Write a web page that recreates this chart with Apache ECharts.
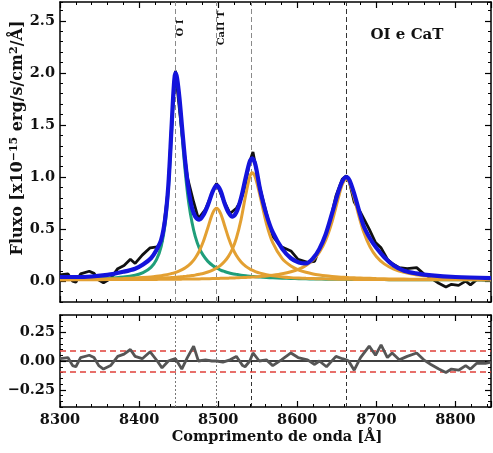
<!DOCTYPE html>
<html><head><meta charset="utf-8">
<script src="https://cdn.jsdelivr.net/npm/echarts@6/dist/echarts.min.js"></script>
<style>html,body{margin:0;padding:0;background:#fff}#c{width:493px;height:453px}</style>
</head><body><div id="c"></div>
<script>
// ---------- data ----------
const waveModel = [8300,8320,8340,8360,8380,8395,8405,8415,8422,8428,
  8433,8437,8441,8444,8446,8448,8451,8455,8459,8463,
  8467,8471,8476,8481,8487,8493,8498,8503,8508,8513,
  8518,8523,8529,8535,8540,8543,8547,8553,8561,8569,
  8581,8592,8602,8611,8620,8628,8636,8644,8652,8657,
  8662,8666,8672,8678,8684,8692,8700,8710,8722,8735,
  8750,8770,8800,8845];
const modelTotal = [0.04,0.04,0.045,0.06,0.09,0.12,0.16,0.22,0.30,0.40,
  0.60,0.92,1.47,1.88,2.00,1.95,1.76,1.42,1.10,0.86,
  0.70,0.62,0.59,0.63,0.73,0.86,0.92,0.87,0.75,0.66,
  0.62,0.66,0.80,1.00,1.15,1.18,1.12,0.88,0.64,0.47,
  0.31,0.22,0.18,0.17,0.22,0.31,0.45,0.65,0.86,0.96,
  1.00,0.97,0.84,0.68,0.53,0.41,0.32,0.23,0.15,0.10,
  0.075,0.055,0.04,0.03];
const compOI = [0.016,0.018,0.021,0.027,0.039,0.057,0.082,0.133,0.207,0.335,
  0.55,0.88,1.43,1.86,1.98,1.93,1.73,1.34,1.0,0.74,
  0.56,0.43,0.32,0.25,0.19,0.15,0.126,0.107,0.093,0.081,
  0.072,0.065,0.057,0.051,0.047,0.045,0.042,0.039,0.035,0.032,
  0.028,0.026,0.024,0.022,0.021,0.020,0.019,0.019,0.018,0.018,
  0.017,0.017,0.016,0.016,0.016,0.015,0.015,0.015,0.014,0.014,
  0.014,0.013,0.013,0.012];
const compCa8498 = [0.016,0.017,0.019,0.022,0.026,0.030,0.035,0.041,0.047,0.053,
  0.059,0.065,0.073,0.079,0.084,0.089,0.098,0.113,0.131,0.154,
  0.184,0.222,0.287,0.375,0.513,0.651,0.70,0.651,0.537,0.417,
  0.319,0.246,0.184,0.142,0.117,0.105,0.092,0.077,0.062,0.052,
  0.041,0.034,0.030,0.027,0.025,0.023,0.022,0.020,0.019,0.019,
  0.018,0.018,0.017,0.017,0.016,0.016,0.015,0.015,0.014,0.014,
  0.014,0.013,0.013,0.013];
const compCa8542 = [0.014,0.015,0.016,0.018,0.020,0.022,0.024,0.026,0.028,0.030,
  0.031,0.033,0.035,0.036,0.037,0.038,0.040,0.043,0.046,0.050,
  0.054,0.058,0.066,0.074,0.088,0.106,0.126,0.152,0.188,0.238,
  0.309,0.412,0.593,0.834,1.005,1.04,0.996,0.817,0.553,0.369,
  0.216,0.145,0.107,0.085,0.069,0.059,0.051,0.045,0.040,0.038,
  0.036,0.034,0.032,0.030,0.028,0.027,0.025,0.023,0.021,0.020,
  0.019,0.017,0.016,0.014];
const compCa8662 = [0.013,0.014,0.014,0.015,0.015,0.016,0.016,0.017,0.017,0.018,
  0.018,0.018,0.019,0.019,0.019,0.019,0.019,0.020,0.020,0.021,
  0.021,0.022,0.022,0.023,0.024,0.025,0.025,0.027,0.028,0.029,
  0.030,0.032,0.034,0.036,0.038,0.039,0.041,0.045,0.050,0.057,
  0.071,0.090,0.116,0.151,0.204,0.278,0.393,0.569,0.80,0.928,
  0.98,0.946,0.80,0.624,0.472,0.329,0.237,0.166,0.116,0.084,
  0.062,0.045,0.032,0.023];

const waveObs = [8300,8310,8316,8320,8326,8337,8343,8349,8355,8364,
  8373,8381,8389,8395,8404,8414,8423,8429,8437,8441,
  8446,8454,8461,8469,8475,8484,8492,8498,8506,8515,
  8523,8527,8531,8534,8540,8544,8552,8561,8569,8580,
  8592,8601,8613,8622,8628,8637,8649,8657,8662,8665,
  8672,8680,8691,8699,8706,8714,8720,8729,8739,8751,
  8760,8769,8779,8788,8795,8804,8813,8819,8827,8838,8845];
const fluxObs = [0.06,0.07,0.00,-0.01,0.07,0.095,0.075,0.01,-0.015,0.025,
  0.12,0.15,0.21,0.17,0.25,0.32,0.33,0.38,0.90,1.48,
  2.02,1.43,1.00,0.76,0.60,0.69,0.84,0.94,0.79,0.65,
  0.70,0.75,0.83,0.92,1.15,1.24,0.92,0.65,0.43,0.33,
  0.29,0.21,0.18,0.19,0.31,0.43,0.82,0.98,1.01,0.98,
  0.76,0.66,0.50,0.37,0.32,0.21,0.17,0.13,0.12,0.13,
  0.07,0.03,-0.02,-0.055,-0.03,-0.04,0.00,-0.035,0.015,0.01,0.02];
const residual = [0.02,0.03,-0.04,-0.05,0.03,0.05,0.03,-0.04,-0.07,-0.04,
  0.04,0.06,0.10,0.04,0.02,0.08,0.00,-0.06,0.00,0.01,
  0.02,-0.07,0.03,0.13,0.00,0.01,0.00,0.00,-0.01,0.01,
  0.04,0.00,-0.04,-0.05,0.00,0.07,0.00,0.01,-0.04,0.01,
  0.07,0.03,0.01,-0.03,0.00,-0.05,0.04,0.02,0.01,0.00,
  -0.08,0.03,0.13,0.05,0.14,0.03,0.07,0.01,0.04,0.07,
  0.01,-0.03,-0.07,-0.10,-0.07,-0.08,-0.04,-0.07,-0.02,-0.02,-0.01];

const lineWaves = [8446, 8498, 8542, 8662];
const labelWaves = [8446, 8498];
const labelTexts = ['O I', 'CaII T'];
const residLimits = [0.085, -0.085];
const fluxTicks = [0, 0.5, 1.0, 1.5, 2.0, 2.5];
const residTicks = [-0.25, 0, 0.25];
const xRange = [8300, 8845];
const fluxRange = [-0.2, 2.68];
const residRange = [-0.4, 0.4];

// ---------- chart ----------
const FONT = 'DejaVu Serif';
const chart = echarts.init(document.getElementById('c'), null, {renderer: 'canvas'});
const pair = (xs, ys) => xs.map((x, i) => [x, ys[i]]);

function xAx(grid, pos, showLabel) {
  return {type: 'value', gridIndex: grid, position: pos, min: xRange[0], max: xRange[1], interval: 100,
    axisLine: {show: true, onZero: false, lineStyle: {color: '#000', width: 1.5}},
    axisTick: {show: true, inside: true, length: 6, lineStyle: {color: '#000', width: 1.2}},
    minorTick: {show: true, splitNumber: 5, length: 3, lineStyle: {color: '#000', width: 1}},
    axisLabel: {show: showLabel, color: '#111', fontFamily: FONT, fontWeight: 'bold', fontSize: 14.5,
      margin: 6, showMaxLabel: false, formatter: v => String(v)},
    splitLine: {show: false}};
}
function yMajor(grid, pos, range, ticks, showLabel, fmt) {
  return {type: 'value', gridIndex: grid, position: pos, min: range[0], max: range[1],
    axisLine: {show: true, onZero: false, lineStyle: {color: '#000', width: 1.5}},
    axisTick: {show: true, inside: true, length: 6, customValues: ticks, lineStyle: {color: '#000', width: 1.2}},
    axisLabel: {show: showLabel, customValues: ticks, formatter: fmt, color: '#111', fontFamily: FONT,
      fontWeight: 'bold', fontSize: 14.5, margin: 5},
    splitLine: {show: false}};
}
function yMinor(grid, pos, range, step) {
  return {type: 'value', gridIndex: grid, position: pos, min: range[0], max: range[1], interval: step,
    axisLine: {show: false},
    axisTick: {show: true, inside: true, length: 3, lineStyle: {color: '#000', width: 1}},
    axisLabel: {show: false}, splitLine: {show: false}};
}

const vLinesTop = lineWaves.map((w, i) => ({xAxis: w,
  lineStyle: {color: i === 3 ? '#333' : '#8a8a8a', width: 1, type: [5, 3]}}));
const vLinesBot = lineWaves.map((w, i) => ({xAxis: w,
  lineStyle: {color: i < 2 ? '#777' : '#333', width: 1, type: i < 2 ? [2, 2] : [4, 3]}}));

const compStyle = c => ({color: c, width: 3});
const option = {
  animation: false,
  backgroundColor: '#fff',
  grid: [
    {left: 60, top: 2, width: 431, height: 300},
    {left: 60, top: 315, width: 431, height: 92}
  ],
  xAxis: [xAx(0, 'bottom', false), xAx(0, 'top', false), xAx(1, 'bottom', true), xAx(1, 'top', false)],
  yAxis: [
    yMajor(0, 'left', fluxRange, fluxTicks, true, v => v.toFixed(1)),
    yMajor(0, 'right', fluxRange, fluxTicks, false),
    yMinor(0, 'left', fluxRange, 0.1),
    yMinor(0, 'right', fluxRange, 0.1),
    yMajor(1, 'left', residRange, residTicks, true, v => (v < 0 ? '\u2212' : '') + Math.abs(v).toFixed(2)),
    yMajor(1, 'right', residRange, residTicks, false),
    yMinor(1, 'left', residRange, 0.05),
    yMinor(1, 'right', residRange, 0.05)
  ],
  series: [
    {type: 'line', xAxisIndex: 0, yAxisIndex: 0, data: pair(waveObs, fluxObs), showSymbol: false,
      lineStyle: {color: '#111', width: 2.8}, z: 2,
      markLine: {silent: true, symbol: 'none', label: {show: false}, data: vLinesTop, z: 1}},
    {type: 'line', xAxisIndex: 0, yAxisIndex: 0, data: pair(waveModel, compOI), showSymbol: false, smooth: 0.3,
      lineStyle: compStyle('#1f9e7a'), z: 3},
    {type: 'line', xAxisIndex: 0, yAxisIndex: 0, data: pair(waveModel, compCa8498), showSymbol: false, smooth: 0.3,
      lineStyle: compStyle('#e3a032'), z: 3},
    {type: 'line', xAxisIndex: 0, yAxisIndex: 0, data: pair(waveModel, compCa8542), showSymbol: false, smooth: 0.3,
      lineStyle: compStyle('#e3a032'), z: 3},
    {type: 'line', xAxisIndex: 0, yAxisIndex: 0, data: pair(waveModel, compCa8662), showSymbol: false, smooth: 0.3,
      lineStyle: compStyle('#e3a032'), z: 3},
    {type: 'line', xAxisIndex: 0, yAxisIndex: 0, data: pair(waveModel, modelTotal), showSymbol: false, smooth: 0.3,
      lineStyle: {color: '#1414dc', width: 4.2}, z: 5},
    {type: 'line', xAxisIndex: 2, yAxisIndex: 4, data: pair(waveObs, residual), showSymbol: false,
      lineStyle: {color: '#555', width: 2.8}, z: 4,
      markLine: {silent: true, symbol: 'none', label: {show: false}, z: 1,
        data: vLinesBot.concat(
          [{yAxis: 0, lineStyle: {color: '#000', width: 1.6, type: 'solid'}}],
          residLimits.map(v => ({yAxis: v, lineStyle: {color: '#e0403a', width: 1.6, type: [6, 4]}}))
        )}}
  ]
};
chart.setOption(option);

const graphics = [
  {type: 'text', x: 18, y: 138, rotation: Math.PI / 2,
    style: {text: '{n|Fluxo [x10}{s|\u221215}{n| erg/s/cm}{s|2}{n|/Å]}', align: 'center', verticalAlign: 'middle',
      rich: {n: {fontFamily: FONT, fontWeight: 'bold', fontSize: 16, fill: '#111', lineHeight: 19},
             s: {fontFamily: FONT, fontWeight: 'bold', fontSize: 11, fill: '#111', lineHeight: 12, verticalAlign: 'top'}}}},
  {type: 'text', x: -6, y: 358, rotation: Math.PI / 2,
    style: {text: 'Resíduo', align: 'center', verticalAlign: 'middle', fill: '#111',
      font: 'bold 14.5px "DejaVu Serif"'}},
  {type: 'text', x: 277, y: 437,
    style: {text: 'Comprimento de onda [Å]', align: 'center', verticalAlign: 'middle', fill: '#111',
      font: 'bold 14.5px "DejaVu Serif"'}},
  {type: 'text', x: 407, y: 35,
    style: {text: 'OI e CaT', align: 'center', verticalAlign: 'middle', fill: '#111',
      font: 'bold 15px "DejaVu Serif"'}}
];
labelWaves.forEach((w, i) => {
  const px = chart.convertToPixel({xAxisIndex: 0}, w);
  graphics.push({type: 'text', x: px + 5, y: 28, rotation: Math.PI / 2,
    style: {text: labelTexts[i], align: 'center', verticalAlign: 'middle', fill: '#111',
      font: 'bold 10px "DejaVu Serif"'}});
});
chart.setOption({graphic: graphics});
</script></body></html>
